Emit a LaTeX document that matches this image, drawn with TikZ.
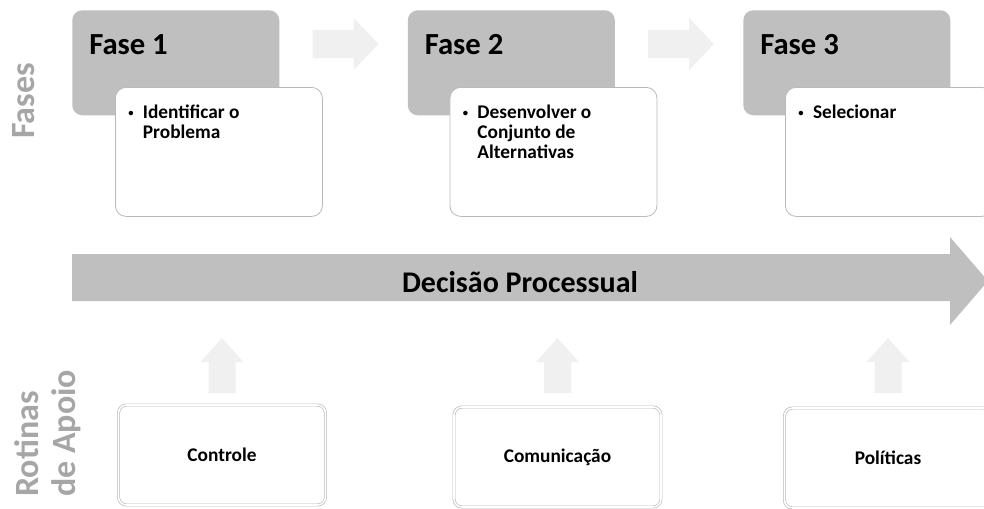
\documentclass[tikz,border=0pt]{standalone}
\usepackage{fontspec}
\setmainfont{Carlito}
\usepackage{xcolor}
\usepackage{tikz}
\usetikzlibrary{calc,positioning}
\definecolor{phasegrey}{RGB}{191,191,191}
\definecolor{fadegrey}{RGB}{240,240,240}
\definecolor{titlegrey}{RGB}{166,166,166}
\definecolor{edgegrey}{RGB}{185,185,185}
\tikzset{
  phasebox/.style={rounded corners=7.5pt,fill=phasegrey,inner sep=0pt,
    minimum width=155.25pt,minimum height=78.75pt,anchor=north west},
  stepcard/.style={rounded corners=8pt,draw=edgegrey,line width=0.6pt,fill=white,
    inner sep=0pt,minimum width=155.25pt,minimum height=96.75pt,anchor=north west},
  routinebox/.style={rounded corners=6pt,draw=edgegrey,double=white,
    double distance=1.2pt,line width=0.5pt,minimum width=155.25pt,
    minimum height=75pt,font=\fontsize{14.5}{16}\selectfont\bfseries},
  phasetitle/.style={anchor=west,inner sep=0pt,font=\fontsize{23}{26}\selectfont\bfseries},
  steptext/.style={anchor=north west,inner sep=0pt,align=left,
    font=\fontsize{14.5}{15}\selectfont\bfseries},
  sidelabel/.style={rotate=90,inner sep=0pt,text=titlegrey,align=left,
    font=\fontsize{25.5}{28}\selectfont\bfseries},
  decisionlabel/.style={font=\fontsize{22.5}{25}\selectfont\bfseries},
  fadearrow/.style={fill=fadegrey},
  mainarrow/.style={fill=phasegrey}
}
\newcommand{\stepitem}[1]{\makebox[11pt][l]{\raisebox{1.2pt}{\scalebox{0.55}{\textbullet}}}\begin{tabular}[t]{@{}l@{}}#1\end{tabular}}

\begin{document}
\begin{tikzpicture}[x=0.75pt,y=-0.75pt]
  \useasboundingbox (0,0) rectangle (984,508);
  % phases
  \node[phasebox] (fase1) at (72,10) {};
  \node[phasebox,right=96pt of fase1] (fase2) {};
  \node[phasebox,right=96pt of fase2] (fase3) {};
  \foreach \f/\n in {fase1/1,fase2/2,fase3/3}
    \node[phasetitle] (title\n) at ($(\f.north west)+(17,35)$) {Fase \n};
  \foreach \a in {fase1,fase2}
    \fill[fadearrow] ($(\a.north east)+(33,20)$) -- ++(41,0) -- ++(0,-12)
      -- ++(25,26) -- ++(-25,26) -- ++(0,-12) -- ++(-41,0) -- cycle;
  \node[stepcard] (card1) at ($(fase1.north west)+(43,77)$) {};
  \node[stepcard] (card2) at ($(fase2.north west)+(42,77)$) {};
  \node[stepcard] (card3) at ($(fase3.north west)+(42,77)$) {};
  \node[steptext] (item1) at ($(card1.north west)+(13,17)$) {\stepitem{Identificar o\\Problema}};
  \node[steptext] (item2) at ($(card2.north west)+(13,17)$) {\stepitem{Desenvolver o\\Conjunto de\\Alternativas}};
  \node[steptext] (item3) at ($(card3.north west)+(13,17)$) {\stepitem{Selecionar}};
  % main arrow
  \fill[mainarrow] (72,254) -- (950,254) -- (950,237) -- (988,281)
    -- (950,325) -- (950,301) -- (72,301) -- cycle;
  \node[decisionlabel] (decision) at (520,282) {Decisão Processual};
  % support routines
  \node[routinebox] (ctrl) at (222,455) {Controle};
  \node[routinebox] (comm) at (557.5,457) {Comunicação};
  \node[routinebox] (pol) at (888,458) {Políticas};
  \coordinate (arrowbase) at (0,393);
  \foreach \b in {ctrl,comm,pol}
    \fill[fadearrow] (\b.north |- arrowbase) ++(-13.5,0) -- ++(0,-31) -- ++(-8,0)
      -- ++(21.5,-24) -- ++(21.5,24) -- ++(-8,0) -- ++(0,31) -- cycle;
  % side labels
  \node[sidelabel] (fases) at (24,101) {Fases};
  \node[sidelabel,anchor=north west] (rotinas) at (14,497) {Rotinas\\de Apoio};
\end{tikzpicture}
\end{document}
